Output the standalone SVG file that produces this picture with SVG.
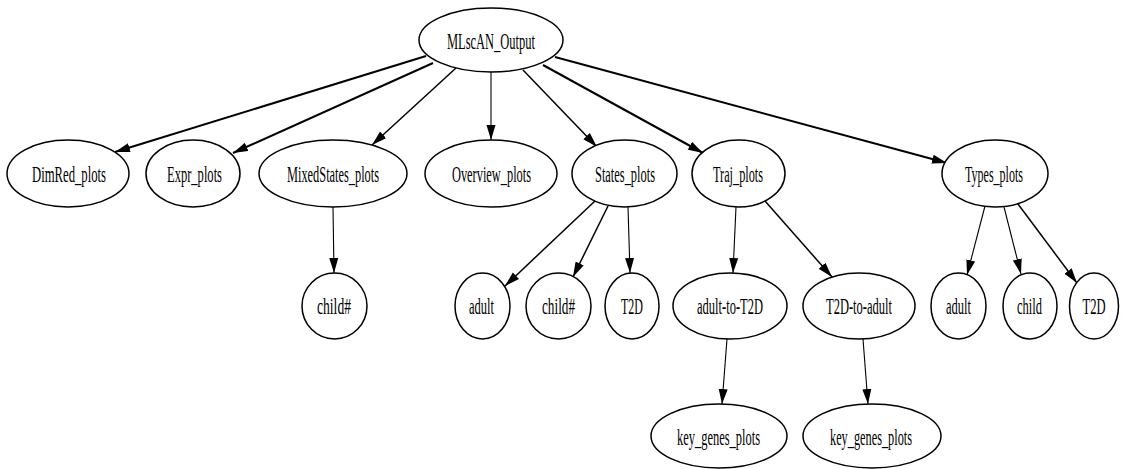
<svg xmlns="http://www.w3.org/2000/svg" width="1122" height="469" viewBox="0 0 1122 469">
<style>
  .node ellipse { fill: #ffffff; stroke: #000000; stroke-width: 1.5; }
  .node text { font-family: "Liberation Serif", "Times New Roman", serif; font-size: 23.5px; fill: #000000; text-anchor: middle; }
  #edges line { stroke: #000000; fill: none; marker-end: url(#arrow); }
  #edges .thick { stroke-width: 2; }
  #edges .mid { stroke-width: 1.5; }
  #edges .thin { stroke-width: 1.1; }
</style>
<defs>
  <marker id="arrow" markerUnits="userSpaceOnUse" markerWidth="16" markerHeight="10" refX="15" refY="5" orient="auto">
    <path d="M0,0.5 L15,5 L0,9.5 z" fill="#000000"/>
  </marker>
</defs>
<rect width="1122" height="469" fill="#ffffff"/>
<g id="edges">
  <line class="thick" x1="426" y1="56" x2="115" y2="152"/>
  <line class="thick" x1="433" y1="63" x2="233" y2="153"/>
  <line class="mid" x1="456" y1="68" x2="372" y2="145"/>
  <line class="thin" x1="491" y1="72" x2="491" y2="140"/>
  <line class="mid" x1="523" y1="70" x2="597" y2="147"/>
  <line class="thick" x1="543" y1="65" x2="703" y2="153"/>
  <line class="thick" x1="555" y1="57" x2="947" y2="163"/>
  <line class="thin" x1="333" y1="207" x2="334" y2="273"/>
  <line class="mid" x1="595" y1="201" x2="505" y2="286"/>
  <line class="mid" x1="608" y1="206" x2="573" y2="277"/>
  <line class="thin" x1="628" y1="207" x2="630" y2="273"/>
  <line class="thin" x1="736" y1="207" x2="733" y2="273"/>
  <line class="mid" x1="765" y1="201" x2="832" y2="277"/>
  <line class="thin" x1="985" y1="206" x2="967" y2="275"/>
  <line class="thin" x1="1004" y1="207" x2="1021" y2="274"/>
  <line class="mid" x1="1018" y1="204" x2="1077" y2="283"/>
  <line class="thin" x1="727" y1="339" x2="722" y2="404"/>
  <line class="thin" x1="863" y1="339" x2="868" y2="404"/>
</g>
<g id="node-root" class="node"><ellipse cx="491" cy="40" rx="72" ry="32"/><text x="491" y="49" textLength="88" lengthAdjust="spacingAndGlyphs">MLscAN_Output</text></g>
<g id="node-dimred" class="node"><ellipse cx="68" cy="173.5" rx="61" ry="33.5"/><text x="69" y="182" textLength="74" lengthAdjust="spacingAndGlyphs">DimRed_plots</text></g>
<g id="node-expr" class="node"><ellipse cx="193" cy="173.5" rx="47" ry="33.5"/><text x="194.5" y="182" textLength="55" lengthAdjust="spacingAndGlyphs">Expr_plots</text></g>
<g id="node-mixed" class="node"><ellipse cx="333" cy="173.5" rx="74" ry="33.5"/><text x="333" y="182" textLength="92" lengthAdjust="spacingAndGlyphs">MixedStates_plots</text></g>
<g id="node-overview" class="node"><ellipse cx="491" cy="173.5" rx="66" ry="33.5"/><text x="491.5" y="182" textLength="79" lengthAdjust="spacingAndGlyphs">Overview_plots</text></g>
<g id="node-states" class="node"><ellipse cx="624.5" cy="173.5" rx="52.5" ry="33.5"/><text x="625" y="182" textLength="60" lengthAdjust="spacingAndGlyphs">States_plots</text></g>
<g id="node-traj" class="node"><ellipse cx="738.5" cy="173.5" rx="46.5" ry="33.5"/><text x="738" y="182" textLength="50" lengthAdjust="spacingAndGlyphs">Traj_plots</text></g>
<g id="node-types" class="node"><ellipse cx="995" cy="173.5" rx="53" ry="33.5"/><text x="994" y="182" textLength="58" lengthAdjust="spacingAndGlyphs">Types_plots</text></g>
<g id="node-mixed-child" class="node"><ellipse cx="334.5" cy="306" rx="32.5" ry="33"/><text x="334" y="314" textLength="34" lengthAdjust="spacingAndGlyphs">child#</text></g>
<g id="node-states-adult" class="node"><ellipse cx="482.5" cy="306" rx="27.5" ry="33"/><text x="481.5" y="314" textLength="25" lengthAdjust="spacingAndGlyphs">adult</text></g>
<g id="node-states-child" class="node"><ellipse cx="558.5" cy="306" rx="32.5" ry="33"/><text x="558.5" y="314" textLength="33" lengthAdjust="spacingAndGlyphs">child#</text></g>
<g id="node-states-t2d" class="node"><ellipse cx="632" cy="306" rx="27" ry="33"/><text x="632" y="314" textLength="22" lengthAdjust="spacingAndGlyphs">T2D</text></g>
<g id="node-adult-to-t2d" class="node"><ellipse cx="730" cy="306" rx="57" ry="33"/><text x="730" y="314" textLength="66" lengthAdjust="spacingAndGlyphs">adult-to-T2D</text></g>
<g id="node-t2d-to-adult" class="node"><ellipse cx="859" cy="306" rx="56" ry="33"/><text x="859" y="314" textLength="66" lengthAdjust="spacingAndGlyphs">T2D-to-adult</text></g>
<g id="node-types-adult" class="node"><ellipse cx="958.5" cy="306" rx="27.5" ry="33"/><text x="958.5" y="314" textLength="25" lengthAdjust="spacingAndGlyphs">adult</text></g>
<g id="node-types-child" class="node"><ellipse cx="1030" cy="306" rx="27" ry="33"/><text x="1029.5" y="314" textLength="25" lengthAdjust="spacingAndGlyphs">child</text></g>
<g id="node-types-t2d" class="node"><ellipse cx="1094" cy="306" rx="24.5" ry="33"/><text x="1094" y="314" textLength="23" lengthAdjust="spacingAndGlyphs">T2D</text></g>
<g id="node-key1" class="node"><ellipse cx="719" cy="436" rx="68" ry="32"/><text x="718.5" y="445" textLength="83" lengthAdjust="spacingAndGlyphs">key_genes_plots</text></g>
<g id="node-key2" class="node"><ellipse cx="872" cy="436" rx="69" ry="32"/><text x="871" y="445" textLength="82" lengthAdjust="spacingAndGlyphs">key_genes_plots</text></g>
</svg>
